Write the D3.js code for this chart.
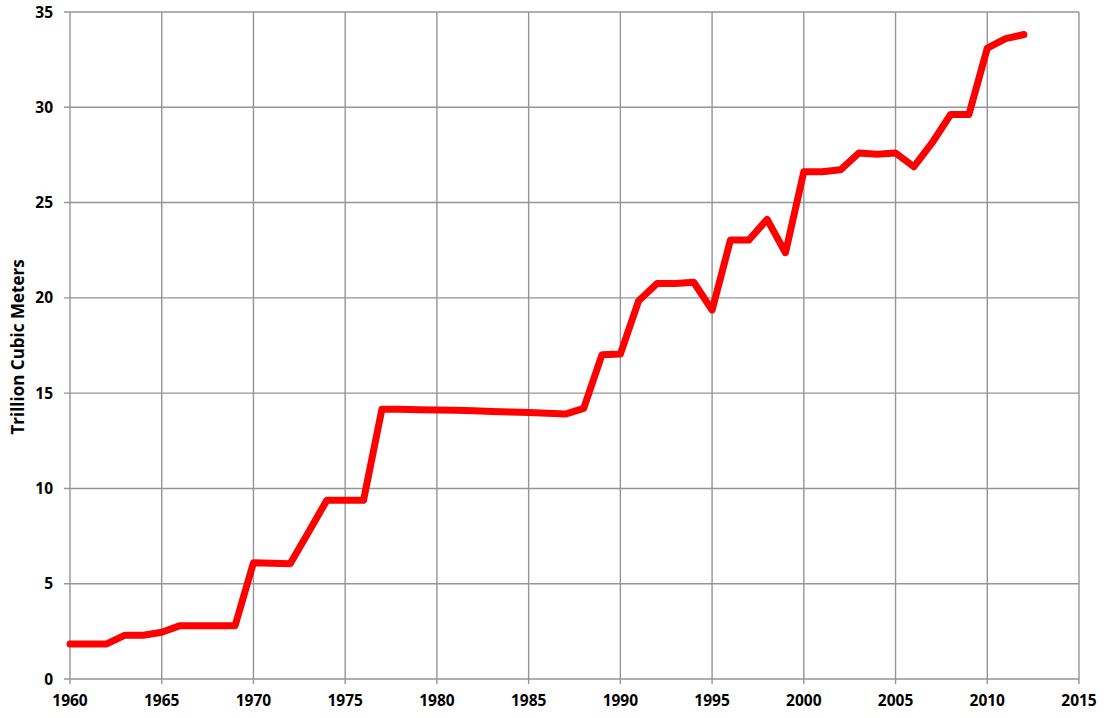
<!DOCTYPE html>
<html>
<head>
<meta charset="utf-8">
<script src="https://cdn.jsdelivr.net/npm/d3@7"></script>
<style>
  body { margin: 0; background: #fff; }
  text { font-family: "Open Sans", Lato, "Liberation Sans", sans-serif; font-weight: bold; fill: #000; }
</style>
</head>
<body>
<svg id="chart" width="1106" height="718"></svg>
<script>
const years = [1960,1961,1962,1963,1964,1965,1966,1967,1968,1969,1970,1971,1972,1973,1974,1975,1976,1977,1978,1979,1980,1981,1982,1983,1984,1985,1986,1987,1988,1989,1990,1991,1992,1993,1994,1995,1996,1997,1998,1999,2000,2001,2002,2003,2004,2005,2006,2007,2008,2009,2010,2011,2012];
const reserves = [1.84,1.84,1.84,2.3,2.3,2.45,2.8,2.8,2.8,2.8,6.1,6.07,6.05,7.7,9.38,9.38,9.38,14.15,14.15,14.13,14.11,14.1,14.07,14.04,14.01,13.98,13.95,13.9,14.2,17.02,17.05,19.85,20.75,20.75,20.82,19.36,23.03,23.03,24.12,22.37,26.62,26.62,26.72,27.6,27.54,27.6,26.88,28.14,29.62,29.62,33.1,33.6,33.82];
const xTicks = [1960,1965,1970,1975,1980,1985,1990,1995,2000,2005,2010,2015];
const yTicks = [0,5,10,15,20,25,30,35];
const yTitle = "Trillion Cubic Meters";

const svg = d3.select("#chart");
const mLeft = 70, mRight = 1079, mTop = 12, mBottom = 679;
const x = d3.scaleLinear().domain([1960, 2015]).range([mLeft, mRight]);
const y = d3.scaleLinear().domain([0, 35]).range([mBottom, mTop]);

const grid = svg.append("g");
grid.selectAll(".vg").data(xTicks).enter().append("line")
  .attr("x1", d => x(d)).attr("x2", d => x(d))
  .attr("y1", mTop).attr("y2", mBottom + 5)
  .attr("stroke", "#959595").attr("stroke-width", 1.4);
grid.selectAll(".hg").data(yTicks).enter().append("line")
  .attr("x1", mLeft - 6).attr("x2", mRight)
  .attr("y1", d => y(d)).attr("y2", d => y(d))
  .attr("stroke", "#959595").attr("stroke-width", 1.4);

svg.selectAll(".yl").data(yTicks).enter().append("text")
  .attr("x", 53).attr("y", d => y(d)).attr("dy", "0.36em")
  .attr("text-anchor", "end").attr("font-size", 15.5).text(d => d);
svg.selectAll(".xl").data(xTicks).enter().append("text")
  .attr("x", d => x(d)).attr("y", 706)
  .attr("text-anchor", "middle").attr("font-size", 15.5).text(d => d);

svg.append("text")
  .attr("transform", `translate(24, 347) rotate(-90)`)
  .attr("text-anchor", "middle").attr("font-size", 17).text(yTitle);

const line = d3.line().x((d, i) => x(years[i])).y(d => y(d));
svg.append("path").datum(reserves)
  .attr("d", line).attr("fill", "none")
  .attr("stroke", "#ff0000").attr("stroke-width", 7)
  .attr("stroke-linejoin", "round").attr("stroke-linecap", "round");
</script>
</body>
</html>
